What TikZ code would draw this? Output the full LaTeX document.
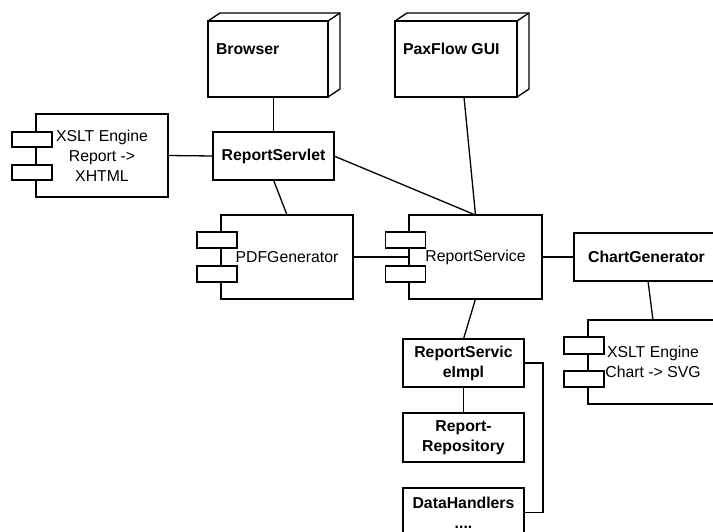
\documentclass[tikz,border=0pt]{standalone}
\usepackage{fontspec}
\setmainfont{Liberation Sans}
\usetikzlibrary{calc}
\begin{document}
\begin{tikzpicture}[x=1pt,y=-1pt,
  every node/.style={font=\fontsize{15.8}{20}\selectfont, inner sep=0pt, outer sep=0pt},
  ln/.style={draw=black, line width=1.3pt},
  boxn/.style={draw=black, line width=1.3pt, fill=white, rectangle, align=center},
  portn/.style={draw=black, line width=1.3pt, fill=white, rectangle, minimum width=40, minimum height=16},
  bold/.style={font=\fontsize{15.8}{20}\selectfont\bfseries}
]
\useasboundingbox (0,0) rectangle (713,531);
\clip (0,0) rectangle (713,531);

% 3D nodes
\node[boxn, minimum width=120, minimum height=76] (browser) at (268,59) {};
\draw[ln] (browser.north west) -- ++(12,-8) -- ($(browser.north east)+(12,-8)$) -- ($(browser.south east)+(12,-8)$) -- (browser.south east);
\draw[ln] (browser.north east) -- ++(12,-8);
\node[bold, anchor=west] (browserlbl) at (216,49) {Browser};

\node[boxn, minimum width=122, minimum height=76] (pax) at (456,59) {};
\draw[ln] (pax.north west) -- ++(12,-8) -- ($(pax.north east)+(12,-8)$) -- ($(pax.south east)+(12,-8)$) -- (pax.south east);
\draw[ln] (pax.north east) -- ++(12,-8);
\node[bold, anchor=west] (paxlbl) at (403,49) {PaxFlow GUI};

% simple boxes
\node[boxn, bold, minimum width=121, minimum height=48] (servlet) at (273.5,156) {ReportServlet};
\node[boxn, bold, minimum width=145, minimum height=48] (chart) at (646.5,257) {ChartGenerator};
\node[boxn, bold, minimum width=121, minimum height=48] (impl) at (463.5,363) {ReportServic\\eImpl};
\node[boxn, bold, minimum width=121, minimum height=49] (repo) at (463.5,437.5) {Report-\\Repository};
\node[boxn, bold, minimum width=121, minimum height=49] (dh) at (463.5,512.5) {DataHandlers\\....};

% components
\node[boxn, minimum width=132, minimum height=83] (xslta) at (102,155.5) {XSLT Engine\\Report ->\\XHTML};
\node[portn, minimum height=15] (xsltap1) at ($(xslta.north west)+(-4,25.5)$) {};
\node[portn, minimum height=15] (xsltap2) at ($(xslta.north west)+(-4,58.5)$) {};

\node[boxn, minimum width=132, minimum height=84] (pdf) at (287,257) {PDFGenerator};
\node[portn] (pdfp1) at ($(pdf.north west)+(-4,25)$) {};
\node[portn] (pdfp2) at ($(pdf.north west)+(-4,59)$) {};

\node[boxn, minimum width=133, minimum height=84] (rs) at (475.5,257) {ReportService};
\node[portn] (rsp1) at ($(rs.north west)+(-3.5,25)$) {};
\node[portn] (rsp2) at ($(rs.north west)+(-3.5,59)$) {};

\node[boxn, minimum width=130, minimum height=84] (xsltb) at (653,362) {XSLT Engine\\Chart -> SVG};
\node[portn, minimum height=17] (xsltbp1) at ($(xsltb.north west)+(-4,25.5)$) {};
\node[portn] (xsltbp2) at ($(xsltb.north west)+(-4,59)$) {};

% connectors
\draw[ln] (servlet.north) -- (servlet.north |- browser.south);
\draw[ln] ($(pax.south)+(8,0)$) -- (rs.north);
\draw[ln] (servlet.east) -- (rs.north);
\draw[ln] (servlet.south) -- (pdf.north);
\draw[ln] (xslta.east) -- (servlet.west);
\draw[ln] (pdf.east) -- (rs.west);
\draw[ln] (rs.east) -- (chart.west);
\draw[ln] ($(chart.south)+(1.5,0)$) -- (xsltb.north);
\draw[ln] (rs.south) -- (impl.north);
\draw[ln] (impl.south) -- (repo.north);
\coordinate (bend) at (543,0);
\draw[ln] (impl.east) -- (impl.east -| bend) -- (dh.east -| bend) -- (dh.east);
\end{tikzpicture}
\end{document}
